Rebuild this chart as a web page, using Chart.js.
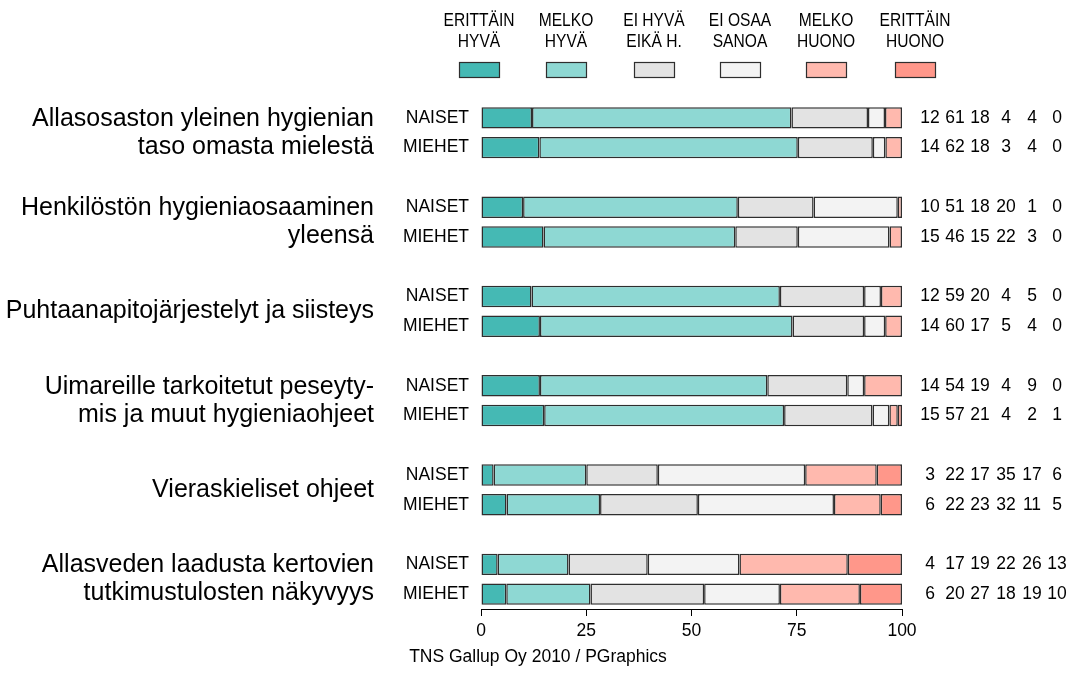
<!DOCTYPE html>
<html>
<head>
<meta charset="utf-8">
<script src="https://cdn.jsdelivr.net/npm/chart.js@4/dist/chart.umd.min.js"></script>
<style>
  html, body { margin: 0; padding: 0; background: #fff; }
  #wrap { width: 1074px; height: 696px; }
</style>
</head>
<body>
<div id="wrap"><canvas id="myChart" width="1074" height="696"></canvas></div>
<script>
// question groups (label lines) and respondent rows
const groupLabels = [
  ['Allasosaston yleinen hygienian', 'taso omasta mielestä'],
  ['Henkilöstön hygieniaosaaminen', 'yleensä'],
  ['Puhtaanapitojärjestelyt ja siisteys'],
  ['Uimareille tarkoitetut peseyty-', 'mis ja muut hygieniaohjeet'],
  ['Vieraskieliset ohjeet'],
  ['Allasveden laadusta kertovien', 'tutkimustulosten näkyvyys']
];
const genders = ['NAISET', 'MIEHET'];

// answer categories (legend, two lines each)
const answerLabels = [
  ['ERITTÄIN', 'HYVÄ'],
  ['MELKO', 'HYVÄ'],
  ['EI HYVÄ', 'EIKÄ H.'],
  ['EI OSAA', 'SANOA'],
  ['MELKO', 'HUONO'],
  ['ERITTÄIN', 'HUONO']
];
const answerColors = ['#45b9b4', '#8ed8d3', '#e3e3e3', '#f3f3f3', '#ffb9ae', '#ff978a'];

// percentages, one value per row (naiset, miehet for each group)
const erittainHyva  = [12, 14, 10, 15, 12, 14, 14, 15,  3,  6,  4,  6];
const melkoHyva     = [61, 62, 51, 46, 59, 60, 54, 57, 22, 22, 17, 20];
const eiHyvaEikaH   = [18, 18, 18, 15, 20, 17, 19, 21, 17, 23, 19, 27];
const eiOsaaSanoa   = [ 4,  3, 20, 22,  4,  5,  4,  4, 35, 32, 22, 18];
const melkoHuono    = [ 4,  4,  1,  3,  5,  4,  9,  2, 17, 11, 26, 19];
const erittainHuono = [ 0,  0,  0,  0,  0,  0,  0,  1,  6,  5, 13, 10];

const xTicks = [0, 25, 50, 75, 100];

const series = [erittainHyva, melkoHyva, eiHyvaEikaH, eiOsaaSanoa, melkoHuono, erittainHuono];
const FONT = '"Liberation Sans", Arial, Helvetica, sans-serif';

// rows of the chart: 2 bars per group, an empty row between groups
const rowLabels = [];
const rowIndex = []; // data index for each row, or null for spacer
groupLabels.forEach((g, gi) => {
  if (gi > 0) { rowLabels.push(''); rowIndex.push(null); }
  genders.forEach((s, si) => {
    rowLabels.push(s + gi);
    rowIndex.push(gi * 2 + si);
  });
});

// bars are drawn as shares of the row total so every row ends at 100
const totals = erittainHyva.map((_, i) => series.reduce((sum, arr) => sum + arr[i], 0));

const datasets = series.map((arr, k) => ({
  label: answerLabels[k].join(' '),
  data: rowIndex.map(i => i === null ? null : arr[i] / totals[i] * 100),
  backgroundColor: answerColors[k],
  borderColor: '#2e2e2e',
  borderWidth: 1.5,
  borderSkipped: false,
  categoryPercentage: 1,
  barPercentage: 0.72
}));

const labelsPlugin = {
  id: 'labelsPlugin',
  afterDraw(chart) {
    const ctx = chart.ctx;
    const y = chart.scales.y;
    ctx.save();
    ctx.fillStyle = '#000';
    ctx.textBaseline = 'middle';

    // legend
    const legendX = [479, 566, 654, 740, 826, 915];
    answerLabels.forEach((lines, k) => {
      const cx = legendX[k];
      ctx.save();
      ctx.translate(cx, 0);
      ctx.scale(0.82, 1);
      ctx.font = '19px ' + FONT;
      ctx.textAlign = 'center';
      ctx.fillStyle = '#000';
      ctx.fillText(lines[0], 0, 21);
      ctx.fillText(lines[1], 0, 42);
      ctx.restore();
      ctx.fillStyle = answerColors[k];
      ctx.fillRect(cx - 20, 62, 40, 15);
      ctx.strokeStyle = '#2e2e2e';
      ctx.lineWidth = 1.2;
      ctx.strokeRect(cx - 20 + 0.5, 62.5, 40, 15);
    });

    // row labels and numbers
    const numX = [930, 955, 980, 1006, 1032, 1057];
    ctx.fillStyle = '#000';
    rowIndex.forEach((i, r) => {
      if (i === null) return;
      const py = y.getPixelForValue(r);
      ctx.font = '17.5px ' + FONT;
      ctx.textAlign = 'right';
      ctx.fillText(genders[i % 2], 469, py);
      ctx.textAlign = 'center';
      series.forEach((arr, k) => ctx.fillText(String(arr[i]), numX[k], py));
    });

    // group labels
    ctx.font = '25px ' + FONT;
    ctx.textAlign = 'right';
    groupLabels.forEach((lines, gi) => {
      const r0 = rowIndex.indexOf(gi * 2);
      const cy = (y.getPixelForValue(r0) + y.getPixelForValue(r0 + 1)) / 2;
      const lh = 28;
      lines.forEach((t, li) => {
        ctx.fillText(t, 374, cy + (li - (lines.length - 1) / 2) * lh);
      });
    });

    // source
    ctx.font = '17.5px ' + FONT;
    ctx.textAlign = 'center';
    ctx.fillText('TNS Gallup Oy 2010 / PGraphics', 538, 657);
    ctx.restore();
  }
};

const chart = new Chart(document.getElementById('myChart').getContext('2d'), {
  type: 'bar',
  data: { labels: rowLabels, datasets: datasets },
  options: {
    indexAxis: 'y',
    responsive: false,
    animation: false,
    events: [],
    layout: { padding: { left: 481, right: 172, top: 103, bottom: 47 } },
    plugins: { legend: { display: false }, tooltip: { enabled: false } },
    scales: {
      x: {
        stacked: true,
        min: 0,
        max: 100,
        afterBuildTicks: s => { s.ticks = xTicks.map(v => ({ value: v })); },
        afterFit: s => { s.height = 40; },
        ticks: { color: '#000', font: { family: FONT, size: 17.5 }, padding: 5, maxRotation: 0 },
        grid: { display: true, drawOnChartArea: false, drawTicks: true, tickLength: 7, color: '#000', lineWidth: 1 },
        border: { display: true, color: '#000', width: 1 }
      },
      y: {
        stacked: true,
        display: false
      }
    }
  },
  plugins: [labelsPlugin]
});
</script>
</body>
</html>
